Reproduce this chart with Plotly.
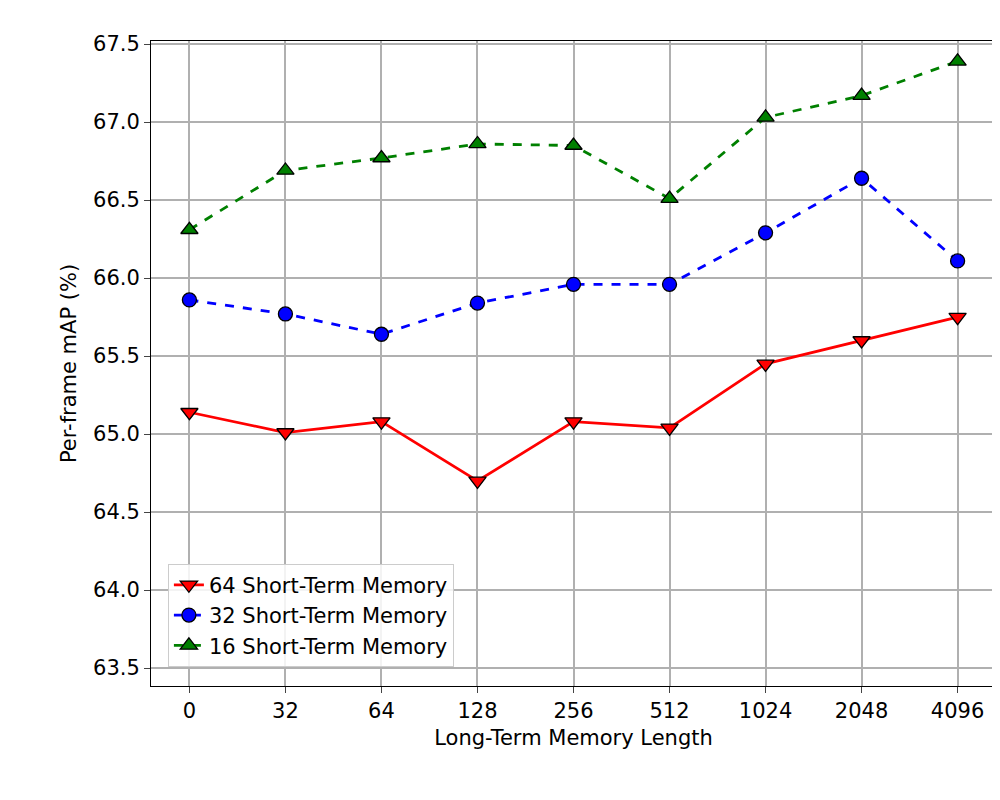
import plotly.graph_objects as go

x_labels = ["0", "32", "64", "128", "256", "512", "1024", "2048", "4096"]
red = [65.14, 65.01, 65.08, 64.70, 65.08, 65.04, 65.45, 65.60, 65.75]
blue = [65.86, 65.77, 65.64, 65.84, 65.96, 65.96, 66.29, 66.64, 66.11]
green = [66.31, 66.69, 66.77, 66.86, 66.85, 66.51, 67.03, 67.17, 67.39]

xs = list(range(len(x_labels)))
fig = go.Figure()
fig.add_trace(go.Scatter(x=xs, y=red, name="64 Short-Term Memory", mode="lines+markers",
    line=dict(color="red", width=2.8),
    marker=dict(symbol="triangle-down", size=15, color="red", line=dict(color="black", width=1.3))))
fig.add_trace(go.Scatter(x=xs, y=blue, name="32 Short-Term Memory", mode="lines+markers",
    line=dict(color="blue", width=2.8, dash="dash"),
    marker=dict(symbol="circle", size=14, color="blue", line=dict(color="black", width=1.3))))
fig.add_trace(go.Scatter(x=xs, y=green, name="16 Short-Term Memory", mode="lines+markers",
    line=dict(color="green", width=2.8, dash="dash"),
    marker=dict(symbol="triangle-up", size=15, color="green", line=dict(color="black", width=1.3))))

ax = dict(showline=True, linecolor="black", mirror=True, ticks="outside", ticklen=6,
          gridcolor="#b0b0b0", gridwidth=1.5, zeroline=False,
          tickfont=dict(size=21, color="black"), title_font=dict(size=21, color="black"))
fig.update_layout(
    width=1000, height=800, paper_bgcolor="white", plot_bgcolor="white",
    font=dict(family="DejaVu Sans", color="black"),
    margin=dict(l=143, r=12, t=33, b=122),
    xaxis=dict(ax, tickmode="array", tickvals=xs, ticktext=x_labels, range=[-0.4, 8.4],
               title=dict(text="Long-Term Memory Length", standoff=8)),
    yaxis=dict(ax, range=[63.385, 67.52], dtick=0.5, tickformat=".1f",
               title=dict(text="Per-frame mAP (%)", standoff=10)),
    legend=dict(x=0.02, y=0.03, xanchor="left", yanchor="bottom", bgcolor="rgba(255,255,255,0.85)",
                bordercolor="#cccccc", borderwidth=1, font=dict(size=21, color="black")),
)
fig.write_html("out.html")
